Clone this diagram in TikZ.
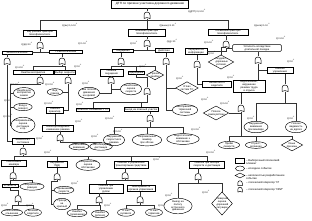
\documentclass[tikz,border=0pt]{standalone}
\usepackage{fontspec}
\setmainfont{Liberation Sans}
\usetikzlibrary{shapes.geometric}
\newcommand{\tenp}[1]{10\textsuperscript{#1}}
\tikzset{
  every node/.style={font=\fontsize{2.6}{2.9}\selectfont},
  bx/.style={draw=black, line width=0.45pt, rectangle, inner sep=0.6pt, text width=#1pt, align=center},
  rbx/.style={draw=black, line width=0.45pt, rectangle, rounded corners=1pt, inner sep=0.8pt, text width=#1pt, align=center},
  ev/.style={draw=black, line width=0.45pt, ellipse, inner sep=0pt, text width=#1pt, align=center},
  dm/.style={draw=black, line width=0.45pt, diamond, aspect=1.8, inner sep=0pt, text width=#1pt, align=center},
  lb/.style={inner sep=0pt, font=\fontsize{2.3}{2.6}\selectfont},
  lgt/.style={inner sep=0pt, anchor=west, align=left, font=\fontsize{2.7}{3.0}\selectfont},
  gn/.style={inner sep=0pt, minimum width=6pt, minimum height=7pt},
  cn/.style={draw=black!80, line width=0.6pt},
  orshape/.pic={\draw[line width=0.5pt] (-3,3.5) -- (-3,0) .. controls (-3,-4) and (3,-4) .. (3,0) -- (3,3.5) .. controls (1,2.2) and (-1,2.2) .. (-3,3.5);},
  andshape/.pic={\draw[line width=0.5pt] (-3,3.5) -- (-3,0) .. controls (-3,-4) and (3,-4) .. (3,0) -- (3,3.5) -- cycle;}
}
\newcommand{\gateOR}[3]{\node[gn] (#1) at (#2,#3) {}; \path (#2,#3) pic {orshape};}
\begin{document}
\begin{tikzpicture}[x=1pt,y=-1pt]
\fill[white] (0,0) rectangle (312,220);
\useasboundingbox (0,0) rectangle (312,220);
% ---------- top ----------
\node[bx=76, minimum height=7.5pt, font=\fontsize{3}{3.3}\selectfont] (T) at (150,4) {ДТП по причине участника дорожного движения};
\node[lb] (qT) at (197,11.5) {Q(ДТП)=3,3·\tenp{-2}};
\gateOR{G0}{147}{15}
\draw[cn] (G0.north) -- (G0.north |- T.south);
\node[bx=32] (A) at (40,33) {Внутренние факторы\\психофизиологич.};
\node[bx=36] (B) at (147,32.5) {Внешние факторы\\психофизиологич.};
\node[bx=39] (C) at (228,32) {Косвенные факторы\\психофизиологич.};
\draw[cn] (G0.south) -- ++(0,2) -| (A.north);
\draw[cn] (G0.south) -- (B.north);
\draw[cn] (G0.south) -- ++(0,2) -| (C.north);
\node[lb] (qA) at (70,25) {Q(вн)=1,5·\tenp{-2}};
\node[lb] (qB) at (168,25) {Q(внеш)=1·\tenp{-2}};
\node[lb] (qC) at (262,25) {Q(косв)=1·\tenp{-2}};
% ---------- A branch ----------
\gateOR{GA}{40}{45}
\draw[cn] (A.south) -- (GA.north);
\node[bx=29] (A1) at (17,52.5) {Физиологические};
\node[bx=32] (A2) at (66,52) {Психологические};
\draw[cn] (GA.south) |- (A1.east);
\draw[cn] (GA.south) |- (A2.west);
\node[lb] (qA1) at (27,44) {Q(ф)=\tenp{-3}};
\node[lb] (qA2) at (83,43) {Q=1·\tenp{-2}};
\gateOR{GA1}{7}{61}
\draw[cn] (GA1.north) -- (GA1.north |- A1.south);
\gateOR{GA2}{62}{61}
\draw[cn] (A2.south -| GA2.north) -- (GA2.north);
\node[bx=39] (A21) at (33,72.5) {Ошибки восприятия};
\node[bx=20] (A22) at (65,72.5) {Выбор скорости};
\draw[cn] (GA2.south) -- ++(0,2) -| (A21.north);
\draw[cn] (GA2.south) -- ++(0,2) -| (A22.north);
\node[lb] (qA21) at (20,67) {Q=4·\tenp{-3}};
\node[lb] (qA22) at (78,66) {Q=\tenp{-3}};
\gateOR{GA21}{40}{80}
\draw[cn] (A21.south -| GA21.north) -- (GA21.north);
\coordinate (bA) at (10,84);
\node[ev=15] (E1) at (24,93) {Ошибочное\\восприятие\\знаков};
\node[ev=13] (E3) at (23,107) {Вход в\\поворот};
\node[ev=17] (E4) at (23,125) {Неправильная\\оценка\\дистанции и пр.};
\draw[cn] (GA21.south) |- (bA) |- (E1.west);
\draw[cn] (bA) |- (E3.west);
\draw[cn] (bA) |- (E4.west);
\node[lb] (qE1) at (15,84) {Q=5·\tenp{-3}};
\node[lb] (qE3) at (8,100.5) {Q=\tenp{-3}};
\node[lb] (qE4) at (8,116) {Q=3·\tenp{-3}};
\gateOR{GA22}{68}{80}
\draw[cn] (A22.south -| GA22.north) -- (GA22.north);
\node[ev=11] (E2) at (55,92) {Вид\\помехи};
\node[bx=16] (D1) at (55,110) {Ошибка\\ориентир.};
\draw[cn] (GA22.south) |- (E2.east);
\draw[cn] (GA22.south) |- (D1.east);
\node[lb] (qE2) at (50,84) {Q=2·\tenp{-3}};
\node[lb] (qD1) at (49,103) {Q=3·\tenp{-3}};
\node[bx=30] (D6) at (58,128) {Неконтролируемое\\изменение режима};
\draw[cn] (D1.south) -- (D1.south |- D6.north);
\node[lb] (qD6) at (79,121) {Q=\tenp{-3}};
\gateOR{GD6}{60}{137.5}
\draw[cn] (D6.south -| GD6.north) -- (GD6.north);
\node[ev=14] (M1) at (79,146.5) {Отвлечение\\внимания};
\node[ev=16] (M2) at (101,146.5) {Несоблюдение\\дистанции};
\draw[cn] (GD6.south) -- ++(0,0.8) -| (M1.north);
\draw[cn] (GD6.south) -- ++(0,0.8) -| (M2.north);
\node[lb] (qM) at (95,136) {Q=\tenp{-3}};
% ---------- B branch ----------
\gateOR{GB}{147}{43}
\draw[cn] (B.south) -- (GB.north);
\node[bx=20] (B1) at (123,50.5) {Ощущения};
\node[bx=17] (B2) at (164,50.5) {Действия};
\draw[cn] (GB.south) |- (B1.east);
\draw[cn] (GB.south) |- (B2.west);
\node[lb] (qB1) at (134,43) {Q=\tenp{-2}};
\node[lb] (qB2) at (172,41) {Q(д)=\tenp{-2}};
\gateOR{GB1}{121}{61}
\draw[cn] (B1.south -| GB1.north) -- (GB1.north);
\node[bx=22] (B11) at (111.5,72.5) {Ошибка ощущения};
\node[bx=15] (B12) at (136,72.5) {Недооценка};
\node[dm=9] (D2) at (155,75) {Прочие\\ошибки};
\draw[cn] (GB1.south) -- ++(0,2) -| (B11.north);
\draw[cn] (GB1.south) -- ++(0,2) -| (B12.north);
\draw[cn] (GB1.south) -- ++(0,2) -| (D2.north);
\node[lb] (qB12) at (143,66) {Q=\tenp{-3}};
\gateOR{GB11}{111}{80}
\draw[cn] (B11.south -| GB11.north) -- (GB11.north);
\node[ev=15] (E5) at (89,93) {Вне полосы\\движения\\на кривой};
\node[ev=15] (E6) at (131,89) {Ошибочная\\оценка\\скорости};
\draw[cn] (GB11.south) |- (E5.east);
\draw[cn] (GB11.south) |- (E6.west);
\node[lb] (qE5) at (86,83) {Q=\tenp{-3}};
\gateOR{GB12}{147}{91}
\draw[cn] (B12.south) -- ++(0,3) -| (GB12.north);
\node[bx=32] (D4) at (93,109.5) {Опасное сближение с ТС};
\node[bx=33] (D5) at (141,109.5) {Выезд на опасный участок};
\draw[cn] (GB12.south) -- ++(0,8) -| (D4.north);
\draw[cn] (GB12.south) -- ++(0,8) -| (D5.north);
\node[lb] (qD4) at (80,104) {Q=\tenp{-2}};
\node[lb] (qD5) at (110,118) {Q=5·\tenp{-3}};
\gateOR{GD5}{150}{118}
\draw[cn] (D5.south -| GD5.north) -- (GD5.north);
\node[ev=15] (F1) at (114,140) {Нарушение\\скоростного\\режима};
\node[ev=21] (F2) at (147,140) {Неправильный\\манёвр\\при обгоне};
\node[ev=23] (F3) at (183,139) {Недостаточное\\внимание к\\обстановке};
\draw[cn] (GD5.south) -- ++(0,6) -| (F1.north);
\draw[cn] (GD5.south) -- ++(0,6) -| (F2.north);
\draw[cn] (GD5.south) -- ++(0,6) -| (F3.north);
\node[lb] (qF1) at (118,131) {Q=5·\tenp{-3}};
\node[lb] (qF3) at (196,129) {Q=2·\tenp{-3}};
\gateOR{GB2}{166}{61}
\draw[cn] (B2.south -| GB2.north) -- (GB2.north);
\node[dm=14] (J1) at (187,88) {Отказ\\систем ТС};
\node[ev=18] (J2) at (185,110) {Неисправность\\тормозной\\системы};
\draw[cn] (GB2.south) |- (J1.west);
\draw[cn] (GB2.south) |- (J2.west);
\node[lb] (qJ1) at (180,78) {Q=\tenp{-3}};
\node[lb] (qJ2) at (205,99) {Q=\tenp{-3}};
% ---------- C branch ----------
\gateOR{GC}{226}{44}
\draw[cn] (C.south -| GC.north) -- (GC.north);
\node[bx=21] (C1) at (196,51) {Переработка\\информации};
\node[dm=11] (D3) at (221,62) {Неудовл.\\дорожные\\условия};
\node[rbx=47] (C2) at (257,48) {Усталость вследствие\\длительной поездки};
\draw[cn] (GC.south) |- (C1.east);
\draw[cn] (GC.south) -| (D3.north);
\draw[cn] (GC.south) |- (C2.west);
\node[lb] (qC1) at (209,42) {Q=5·\tenp{-3}};
\node[lb] (qD3) at (212,53) {Q=\tenp{-3}};
\node[lb] (qC2) at (281,38) {Q=3·\tenp{-3}};
\gateOR{GC1}{197}{64}
\draw[cn] (C1.south -| GC1.north) -- (GC1.north);
\node[bx=28] (N1) at (217,84) {Неопытность\\водителя};
\draw[cn] (GC1.south) |- (N1.west);
\node[lb] (qN1) at (231,77) {Q=\tenp{-2}};
\gateOR{GC2}{258}{60}
\draw[cn] (C2.south -| GC2.north) -- (GC2.north);
\node[bx=25] (C21) at (280,70) {Ошибки\\управления};
\node[bx=31] (N2) at (249,86.5) {Недосыпание, нарушение\\режима труда\\и отдыха};
\draw[cn] (GC2.south) |- (C21.west);
\draw[cn] (GC2.south) -- (N2.north -| GC2.south);
\node[lb] (qC21) at (291,61) {Q=\tenp{-2}};
\gateOR{GC21}{285}{88}
\draw[cn] (C21.south -| GC21.north) -- (GC21.north);
\node[ev=17] (L1) at (256,127) {Нарушение\\внимания\\при манёвре};
\node[ev=15] (L2) at (296,127) {Плохая\\видимость\\на дороге};
\draw[cn] (GC21.south) -- ++(0,12) -| (L1.north);
\draw[cn] (GC21.south) -- ++(0,12) -| (L2.north);
\node[lb] (qL1) at (251,118) {Q=\tenp{-3}};
\node[lb] (qL2) at (291,118) {Q=\tenp{-3}};
\gateOR{GN2}{241}{108}
\draw[cn] (N2.south -| GN2.north) -- (GN2.north);
\node[dm=16] (D7) at (216,113) {Плохое\\самочувствие};
\draw[cn] (GN2.south) |- (D7.east);
\node[lb] (qD7) at (225,103) {Q=5·\tenp{-3}};
\node[ev=15] (K1) at (229,145) {Приём\\лекарств};
\node[ev=15] (K2) at (256,145) {Стресс,\\волнение};
\node[dm=12] (K3) at (292,145) {Иные\\причины};
\draw[cn] (GN2.south) -- ++(0,25) -| (K1.north);
\draw[cn] (GN2.south) -- ++(0,25) -| (K2.north);
\draw[cn] (GN2.south) -- ++(0,25) -| (K3.north);
% ---------- lower left ----------
\node[bx=21] (H1) at (23,141) {Физиологич.\\состояние};
\draw[cn] (GA1.south) |- (H1.west);
\node[lb] (qH1) at (40,138) {Q=\tenp{-2}};
\gateOR{GH1}{23}{151}
\draw[cn] (H1.south) -- (GH1.north);
\node[bx=24] (H2) at (14,163.5) {Неосвоение\\манёвра};
\node[bx=19] (G1) at (57,164.5) {Нарушение\\ПДД};
\node[ev=17] (G2) at (88,165) {Неправильная\\оценка\\обстановки};
\node[bx=33] (I1) at (131,164.5) {Ошибки в управлении\\транспортным средством};
\node[bx=34] (I2) at (207,164.5) {Ошибки при выборе\\скорости и дистанции};
\draw[cn] (GH1.south) -- ++(0,1.5) -| (H2.north);
\draw[cn] (GH1.south) -- ++(0,1.5) -| (G1.north);
\draw[cn] (GH1.south) -- ++(0,1.5) -| (G2.north);
\draw[cn] (GH1.south) -- ++(0,1.5) -| (I1.north);
\draw[cn] (GH1.south) -- ++(0,1.5) -| (I2.north);
\node[lb] (qG) at (48,152.5) {Q=\tenp{-2}};
\node[lb] (qI1) at (157,159) {Q=\tenp{-2}};
\node[lb] (qI2) at (211,152.5) {Q=2·\tenp{-2}};
\gateOR{GH2}{13}{175.5}
\draw[cn] (H2.south -| GH2.north) -- (GH2.north);
\node[bx=15] (H21) at (10,185.5) {Усталость};
\node[ev=17] (H22) at (32,186.5) {Неправильная\\реакция};
\draw[cn] (GH2.south) -- ++(0,1.5) -| (H21.north);
\draw[cn] (GH2.south) -- ++(0,1.5) -| (H22.north);
\gateOR{GH21}{18}{198.5}
\draw[cn] (H21.south) -- ++(0,3) -| (GH21.north);
\node[ev=15] (H211) at (12,212.5) {Алкогольное\\опьянение};
\node[ev=12] (H212) at (33,212.5) {Болезнь\\водителя};
\draw[cn] (GH21.south) -- ++(0,3) -| (H211.north);
\draw[cn] (GH21.south) -- ++(0,3) -| (H212.north);
\node[lb] (qH211) at (5,205) {Q=\tenp{-3}};
\node[lb] (qH212) at (30,205) {Q=\tenp{-3}};
\gateOR{GM}{57}{176.5}
\draw[cn] (G1.south) -- (GM.north);
\coordinate (cM) at (51,181.5);
\node[ev=14] (P1) at (64,190) {Превышение\\скорости};
\node[ev=12] (P2) at (62,204) {Проезд на\\красный};
\draw[cn] (GM.south) |- (cM) |- (P1.west);
\draw[cn] (cM) |- (P2.west);
\node[lb] (qP1) at (75,183) {Q=\tenp{-3}};
\gateOR{GI1}{125}{175.5}
\draw[cn] (I1.south -| GI1.north) -- (GI1.north);
\node[bx=33] (I11) at (106,188.5) {Ошибки при\\управлении\\рулём};
\node[bx=27] (I12) at (141,188.5) {Неисправность\\органов управления};
\draw[cn] (GI1.south) -- ++(0,1.3) -| (I11.north);
\draw[cn] (GI1.south) -- ++(0,1.3) -| (I12.north);
\gateOR{GI11}{99}{199.5}
\draw[cn] (I11.south -| GI11.north) -- (GI11.north);
\node[ev=14] (P3) at (77,213) {Ошибка\\торможения};
\node[ev=12] (P4) at (100,214) {Ошибка\\руления};
\draw[cn] (GI11.south) -- ++(0,2.5) -| (P3.north);
\draw[cn] (GI11.south) -- ++(0,2.5) -| (P4.north);
\node[lb] (qP4) at (108,205) {Q=\tenp{-2}};
\gateOR{GI12}{140}{199.5}
\draw[cn] (I12.south -| GI12.north) -- (GI12.north);
\node[ev=12] (R1) at (126,212.5) {Отказ\\рулевого};
\node[ev=12] (R2) at (154,212.5) {Отказ\\тормозов};
\draw[cn] (GI12.south) -- ++(0,2.5) -| (R1.north);
\draw[cn] (GI12.south) -- ++(0,2.5) -| (R2.north);
\node[lb] (qR) at (162,205) {Q=\tenp{-3}};
\gateOR{GI2}{198}{176.5}
\draw[cn] (I2.south -| GI2.north) -- (GI2.north);
\node[ev=20] (I21) at (178,206) {Выезд на полосу\\встречного\\движения};
\node[dm=11, aspect=0.9] (I22) at (222,203.5) {Неверная\\оценка\\дорожной\\ситуации};
\draw[cn] (GI2.south) -- ++(0,3) -| (I21.north);
\draw[cn] (GI2.south) -- ++(0,3) -| (I22.north);
\node[lb] (qI21) at (169,195.5) {Q=\tenp{-3}};
\node[lb] (qI22) at (206,192.5) {Q=\tenp{-3}};
% ---------- legend ----------
\node[draw, line width=0.45pt, rectangle, minimum width=9pt, minimum height=4.5pt, inner sep=0pt] (lg1) at (240,160.5) {};
\node[lgt, anchor=north west] (lt1) at (246,159) {– Выборочный логический\\элемент};
\node[draw, line width=0.45pt, ellipse, minimum width=9pt, minimum height=5pt, inner sep=0pt] (lg2) at (240,168.5) {};
\node[lgt] (lt2) at (246,168.5) {– исходное событие};
\node[draw, line width=0.45pt, diamond, minimum width=10pt, minimum height=5pt, inner sep=0pt] (lg3) at (240,175.5) {};
\node[lgt, anchor=north west] (lt3) at (246,174) {– неполностью разработанное\\событие};
\node[gn, minimum width=4.5pt, minimum height=5pt] (lg4) at (240,183) {};
\path (240,183) pic[scale=0.75] {andshape};
\node[lgt] (lt4) at (246,183) {– логический оператор "И"};
\node[gn, minimum width=4.5pt, minimum height=5pt] (lg5) at (240,189.5) {};
\path (240,189.5) pic[scale=0.75] {orshape};
\node[lgt] (lt5) at (246,189.5) {– логический оператор "ИЛИ"};
\end{tikzpicture}
\end{document}
